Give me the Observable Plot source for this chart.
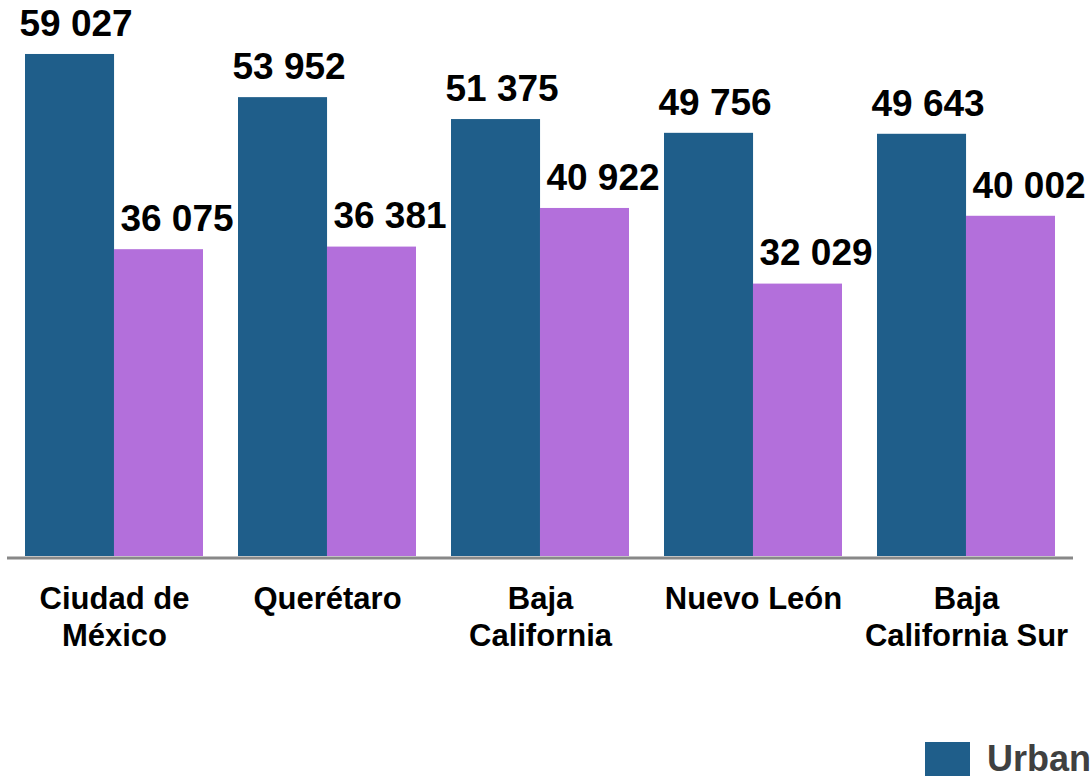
<!DOCTYPE html>
<html>
<head>
<meta charset="utf-8">
<script src="https://cdn.jsdelivr.net/npm/d3@7"></script>
<script src="https://cdn.jsdelivr.net/npm/@observablehq/plot@0.6"></script>
<style>
  html, body { margin: 0; padding: 0; background: #fff; overflow: hidden; width: 1091px; height: 776px; }
  #chart { position: absolute; left: 0; top: 0; }
  #legend { position: absolute; left: 925px; top: 738px; display: flex; align-items: center; white-space: nowrap;
    font-family: "Liberation Sans", Arial, sans-serif; font-weight: bold; font-size: 36px; color: #404040; }
  .sw { width: 45px; height: 35px; display: inline-block; margin-right: 17px; }
  .item { display: flex; align-items: center; margin-right: 40px; }
</style>
</head>
<body>
<div id="chart"></div>
<div id="legend"></div>
<script>
const categories = ["Ciudad de México", "Querétaro", "Baja California", "Nuevo León", "Baja California Sur"];
const tickLabels = ["Ciudad de\nMéxico", "Querétaro", "Baja\nCalifornia", "Nuevo León", "Baja\nCalifornia Sur"];
const series = ["Urban", "Rural"];
const urbanValues = [59027, 53952, 51375, 49756, 49643];
const ruralValues = [36075, 36381, 40922, 32029, 40002];
const colors = ["#1F5E8A", "#B36FDB"];

const data = [];
categories.forEach((c, i) => {
  data.push({category: c, series: "Urban", value: urbanValues[i]});
  data.push({category: c, series: "Rural", value: ruralValues[i]});
});
const urban = data.filter(d => d.series === "Urban");
const rural = data.filter(d => d.series === "Rural");
const fmt = v => d3.format(",")(v).replace(/,/g, " ");
const labelOf = new Map(categories.map((c, i) => [c, tickLabels[i]]));

const half = 88.95;
const chart = Plot.plot({
  width: 1091,
  height: 660,
  marginLeft: 7,
  marginRight: 18,
  marginTop: 45.7,
  marginBottom: 104,
  style: {fontFamily: "'Liberation Sans', Arial, sans-serif", background: "#fff"},
  x: {domain: categories, paddingInner: 0.1655, paddingOuter: 0.0828, axis: null},
  y: {domain: [0, 60000], axis: null},
  color: {domain: series, range: colors},
  marks: [
    Plot.barY(urban, {x: "category", y: "value", fill: "series", insetRight: half}),
    Plot.barY(rural, {x: "category", y: "value", fill: "series", insetLeft: half}),
    Plot.ruleY([0], {stroke: "#888888", strokeWidth: 3, dy: 1.5}),
    Plot.text(urban, {x: "category", y: "value", text: d => fmt(d.value), dx: -half / 2 + 6, dy: -30.5,
      fontSize: 37, fontWeight: "bold", fill: "#000"}),
    Plot.text(rural, {x: "category", y: "value", text: d => fmt(d.value), dx: half / 2 + 18, dy: -30.5,
      fontSize: 37, fontWeight: "bold", fill: "#000"}),
    Plot.axisX({tickSize: 0, tickPadding: 27, fontSize: 31, fontWeight: "bold", lineHeight: 1.18,
      tickFormat: d => labelOf.get(d), fill: "#000", label: null})
  ]
});
document.getElementById("chart").appendChild(chart);

const legend = document.getElementById("legend");
series.forEach((s, i) => {
  const item = document.createElement("span");
  item.className = "item";
  const sw = document.createElement("span");
  sw.className = "sw";
  sw.style.background = colors[i];
  item.appendChild(sw);
  item.appendChild(document.createTextNode(s));
  legend.appendChild(item);
});
</script>
</body>
</html>
